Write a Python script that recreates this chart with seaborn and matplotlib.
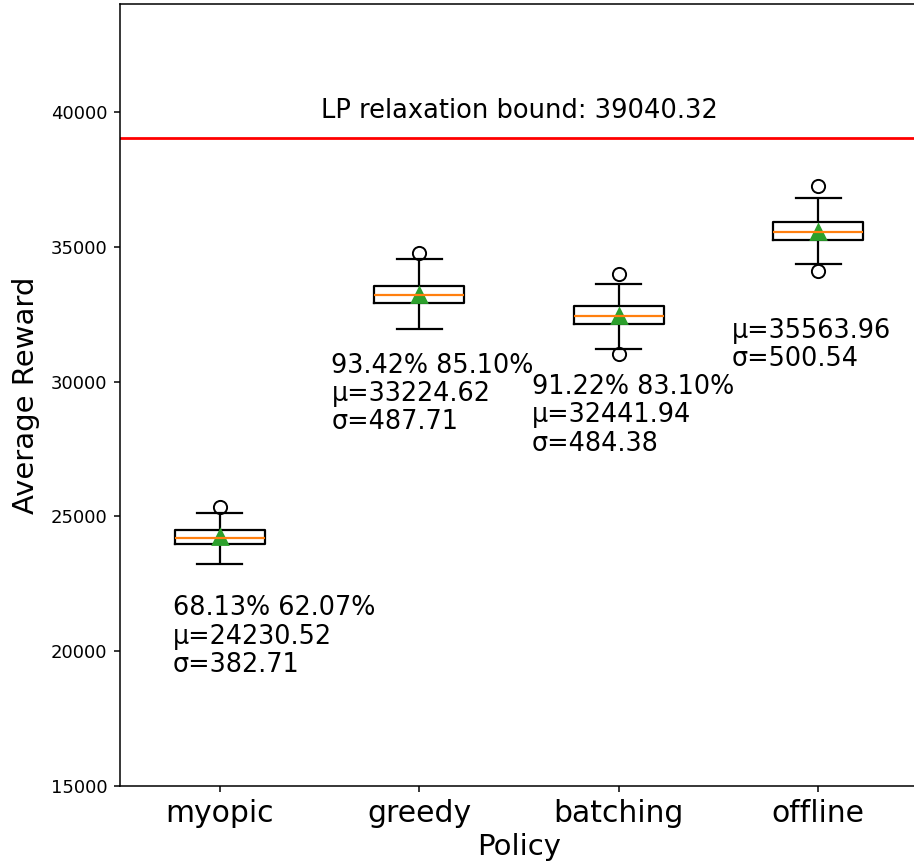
import numpy as np
import pandas as pd
import matplotlib
matplotlib.use("Agg")
import matplotlib.pyplot as plt
import seaborn as sns

# ---- data ----
policies = ["myopic", "greedy", "batching", "offline"]
means = [24230.52, 33224.62, 32441.94, 35563.96]
stds = [382.71, 487.71, 484.38, 500.54]
ratio_a = ["68.13%", "93.42%", "91.22%", None]
ratio_b = ["62.07%", "85.10%", "83.10%", None]
whisker_low = [23240, 31940, 31210, 34350]
q1 = [23980, 32900, 32137, 35252]
median = [24210, 33223, 32445, 35534]
q3 = [24480, 33560, 32804, 35905]
whisker_high = [25115, 34530, 33610, 36795]
outliers_low = [[], [], [31013], [34115]]
outliers_high = [[25360], [34775], [34010], [37260]]
lp_bound = 39040.32
y_ticks = [15000, 20000, 25000, 30000, 35000, 40000]

# label placement (style, not data)
label_dx = [-0.235, -0.44, -0.435, -0.435]
label_dy = -5000


def sample_values(i):
    """Build a tiny sample whose box statistics equal the values read above."""
    if outliers_low[i]:
        vals = (outliers_low[i] + [whisker_low[i], q1[i], median[i], median[i],
                                   median[i], q3[i], whisker_high[i]] + outliers_high[i])
    else:
        vals = ([whisker_low[i], q1[i], q1[i], median[i], median[i], q3[i], q3[i],
                 whisker_high[i]] + outliers_high[i])
    return vals


rows = []
for i, p in enumerate(policies):
    for v in sample_values(i):
        rows.append({"Policy": p, "Average Reward": v})
df = pd.DataFrame(rows)

fig = plt.figure(figsize=(9.14, 8.65), dpi=100)
ax = fig.add_axes([120 / 914, 79 / 865, 798 / 914, 781.8 / 865])

sns.boxplot(
    data=df, x="Policy", y="Average Reward", order=policies,
    width=0.45, fill=False, color="black", linewidth=1.6, whis=1.5,
    medianprops=dict(color="#ff7f0e", linewidth=1.6),
    flierprops=dict(marker="o", markerfacecolor="none", markeredgecolor="black",
                    markersize=9.5, markeredgewidth=1.4),
    ax=ax,
)

sns.pointplot(
    x=policies, y=means, order=policies, linestyle="none", marker="^",
    color="#2ca02c", markersize=9.5, errorbar=None, ax=ax,
)

ax.axhline(lp_bound, color="red", linewidth=2.0)
ax.text((len(policies) - 1) / 2, lp_bound + 500,
        f"LP relaxation bound: {lp_bound:.2f}",
        ha="center", va="bottom", fontsize=18.5)

for i, p in enumerate(policies):
    lines = []
    if ratio_a[i] is not None:
        lines.append(f"{ratio_a[i]} {ratio_b[i]}")
    lines.append(f"\u03bc={means[i]:.2f}")
    lines.append(f"\u03c3={stds[i]:.2f}")
    ax.text(i + label_dx[i], means[i] + label_dy, "\n".join(lines),
            ha="left", fontsize=18.4, linespacing=1.12)

ax.set_xlim(-0.5, len(policies) - 0.5)
ax.set_ylim(15000, 44000)
ax.set_yticks(y_ticks)
ax.set_xlabel("Policy", fontsize=21)
ax.set_ylabel("Average Reward", fontsize=21, labelpad=8)
ax.tick_params(axis="y", labelsize=13, length=4.5, width=1.1, pad=4.5)
ax.tick_params(axis="x", labelsize=21.5, length=4.5, width=1.1, pad=4.5)
for s in ax.spines.values():
    s.set_linewidth(1.1)

fig.savefig("out.png", dpi=100)
